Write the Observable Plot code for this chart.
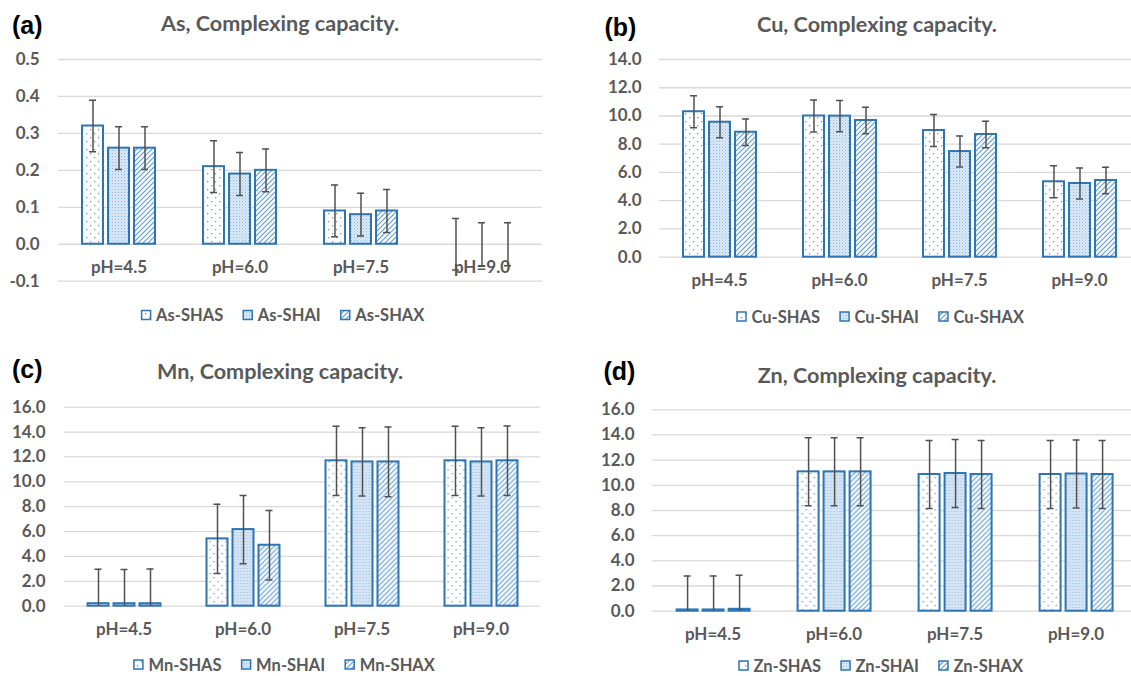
<!DOCTYPE html>
<html><head><meta charset="utf-8">
<script src="https://cdn.jsdelivr.net/npm/d3@7"></script>
<script src="https://cdn.jsdelivr.net/npm/@observablehq/plot@0.6"></script>
<style>
html,body{margin:0;padding:0;background:#fff;overflow:hidden;width:1131px;height:676px;}
.panel{position:absolute;}
#overlay{position:absolute;left:0;top:0;pointer-events:none;}
</style></head><body>
<svg width="0" height="0" style="position:absolute">
<defs>
<pattern id="pS" patternUnits="userSpaceOnUse" width="8" height="8">
  <rect width="8" height="8" fill="#fff"/>
  <rect x="1" y="1" width="1.3" height="1.3" fill="#5b9bd5"/>
  <rect x="5" y="5" width="1.3" height="1.3" fill="#5b9bd5"/>
</pattern>
<pattern id="pI" patternUnits="userSpaceOnUse" width="3" height="3">
  <rect width="3" height="3" fill="#dae8f6"/>
  <rect width="1" height="1" fill="#8dbae3"/>
  <rect x="1.5" y="1.5" width="1" height="1" fill="#b5d2ee"/>
</pattern>
<pattern id="pX" patternUnits="userSpaceOnUse" width="5" height="5">
  <rect width="5" height="5" fill="#fff"/>
  <path d="M0,5 L5,0 M-1,1 L1,-1 M4,6 L6,4" stroke="#5b9bd5" stroke-width="1.1"/>
</pattern>
</defs>
</svg>
<div id="pa" class="panel" style="left:0px;top:0px"></div>
<div id="pb" class="panel" style="left:570px;top:0px"></div>
<div id="pc" class="panel" style="left:0px;top:340px"></div>
<div id="pd" class="panel" style="left:570px;top:340px"></div>
<svg id="overlay" width="1131" height="676"></svg>
<script>
const categories = ["pH=4.5", "pH=6.0", "pH=7.5", "pH=9.0"];
const axisCross = 0;

// (a) As
const asSeries = ["As-SHAS", "As-SHAI", "As-SHAX"];
const asSHAS = [0.32, 0.21, 0.09, 0.00];
const asSHAI = [0.26, 0.19, 0.08, 0.00];
const asSHAX = [0.26, 0.20, 0.09, 0.00];
const asSHASErr = [0.07, 0.07, 0.07, 0.07];
const asSHAIErr = [0.058, 0.058, 0.058, 0.058];
const asSHAXErr = [0.058, 0.058, 0.058, 0.058];
const asTicks = [-0.1, 0, 0.1, 0.2, 0.3, 0.4, 0.5];

// (b) Cu
const cuSeries = ["Cu-SHAS", "Cu-SHAI", "Cu-SHAX"];
const cuSHAS = [10.3, 10.0, 8.97, 5.34];
const cuSHAI = [9.56, 9.99, 7.48, 5.22];
const cuSHAX = [8.85, 9.68, 8.69, 5.43];
const cuSHASErr = [1.13, 1.13, 1.13, 1.13];
const cuSHAIErr = [1.1, 1.1, 1.1, 1.1];
const cuSHAXErr = [0.94, 0.94, 0.94, 0.94];
const cuTicks = [0, 2, 4, 6, 8, 10, 12, 14];

// (c) Mn
const mnSeries = ["Mn-SHAS", "Mn-SHAI", "Mn-SHAX"];
const mnSHAS = [0.2, 5.41, 11.69, 11.69];
const mnSHAI = [0.2, 6.16, 11.6, 11.6];
const mnSHAX = [0.2, 4.9, 11.6, 11.69];
const mnSHASErr = [2.78, 2.78, 2.78, 2.78];
const mnSHAIErr = [2.75, 2.75, 2.75, 2.75];
const mnSHAXErr = [2.8, 2.8, 2.8, 2.8];
const mnTicks = [0, 2, 4, 6, 8, 10, 12, 14, 16];

// (d) Zn
const znSeries = ["Zn-SHAS", "Zn-SHAI", "Zn-SHAX"];
const znSHAS = [0.1, 11.07, 10.86, 10.86];
const znSHAI = [0.1, 11.07, 10.94, 10.9];
const znSHAX = [0.15, 11.07, 10.86, 10.86];
const znSHASErr = [2.7, 2.7, 2.7, 2.7];
const znSHAIErr = [2.7, 2.7, 2.7, 2.7];
const znSHAXErr = [2.7, 2.7, 2.7, 2.7];
const znTicks = [0, 2, 4, 6, 8, 10, 12, 14, 16];

const panelLabels = ["(a)", "(b)", "(c)", "(d)"];
const titles = ["As, Complexing capacity.", "Cu, Complexing capacity.", "Mn, Complexing capacity.", "Zn, Complexing capacity."];

const patterns = ["url(#pS)", "url(#pI)", "url(#pX)"];
const FONT = "Lato, 'Open Sans', sans-serif";
const GRAY = "#595959";
const BLUE = "#2e75b6";

function makePanel(el, cfg) {
  const rows = [];
  categories.forEach((c, i) => cfg.series.forEach((s, j) => {
    rows.push({cat: c, series: s, v: cfg.values[j][i], e: cfg.errors[j][i]});
  }));
  const t = cfg.ticks;
  const chart = Plot.plot({
    width: cfg.width, height: cfg.height,
    marginLeft: cfg.ml, marginRight: cfg.mr, marginTop: cfg.mt, marginBottom: cfg.mb,
    style: {background: "transparent", fontFamily: FONT, fontSize: "17px", fontWeight: "bold", color: GRAY, overflow: "visible", maxWidth: "none"},
    fx: {domain: categories, padding: 0, axis: null},
    x: {domain: cfg.series, paddingInner: 0.2, paddingOuter: 0.86, axis: null},
    y: {domain: [t[0], t[t.length - 1]], axis: null},
    color: {domain: cfg.series, range: patterns},
    marks: [
      Plot.gridY(t, {stroke: "#d9d9d9", strokeOpacity: 1, strokeWidth: 1.3}),
      Plot.axisY(t, {label: null, tickSize: 0, tickPadding: cfg.tp, tickFormat: d => d.toFixed(1), fontSize: 17, fontWeight: "bold", fill: GRAY}),
      Plot.text(categories, {fx: d => d, y: () => axisCross, dy: 23.5, text: d => d, fontSize: 17, fontWeight: "bold", fill: GRAY}),
      Plot.barY(rows, {filter: d => d.v !== 0, fx: "cat", x: "series", y: "v", fill: "series", stroke: BLUE, strokeWidth: 2}),
      Plot.ruleX(rows, {fx: "cat", x: "series", y1: d => d.v - d.e, y2: d => d.v + d.e, stroke: "#505050", strokeWidth: 1.5, clip: true}),
      Plot.tickY(rows, {fx: "cat", x: "series", y: d => d.v - d.e, stroke: "#505050", strokeWidth: 1.5, insetLeft: 7, insetRight: 7, clip: true}),
      Plot.tickY(rows, {fx: "cat", x: "series", y: d => d.v + d.e, stroke: "#505050", strokeWidth: 1.5, insetLeft: 7, insetRight: 7, clip: true})
    ]
  });
  document.getElementById(el).appendChild(chart);
}

makePanel("pa", {series: asSeries, values: [asSHAS, asSHAI, asSHAX], errors: [asSHASErr, asSHAIErr, asSHAXErr], ticks: asTicks,
  width: 560, height: 305.7, ml: 57, mr: 18, mt: 59, mb: 25, tp: 19});
makePanel("pb", {series: cuSeries, values: [cuSHAS, cuSHAI, cuSHAX], errors: [cuSHASErr, cuSHAIErr, cuSHAXErr], ticks: cuTicks,
  width: 580, height: 296.7, ml: 87, mr: 10, mt: 59, mb: 40, tp: 18});
makePanel("pc", {series: mnSeries, values: [mnSHAS, mnSHAI, mnSHAX], errors: [mnSHASErr, mnSHAIErr, mnSHAXErr], ticks: mnTicks,
  width: 560, height: 301.7, ml: 62.5, mr: 18, mt: 66.7, mb: 36, tp: 19});
makePanel("pd", {series: znSeries, values: [znSHAS, znSHAI, znSHAX], errors: [znSHASErr, znSHAIErr, znSHAXErr], ticks: znTicks,
  width: 577.2, height: 306.7, ml: 80.4, mr: 10, mt: 69.3, mb: 36, tp: 18});

// overlay: panel labels, titles, legends
const NS = "http://www.w3.org/2000/svg";
const ov = document.getElementById("overlay");
function txt(x, y, s, attrs) {
  const e = document.createElementNS(NS, "text");
  e.setAttribute("x", x); e.setAttribute("y", y);
  for (const k in attrs) e.setAttribute(k, attrs[k]);
  e.textContent = s; ov.appendChild(e); return e;
}
const labelPos = [[12, 34], [604.5, 36.4], [12, 378], [603.5, 379.7]];
const titlePos = [[280, 31], [877, 31.7], [280, 379.3], [877, 383.3]];
panelLabels.forEach((s, i) => txt(labelPos[i][0], labelPos[i][1], s, {"font-family": "'Liberation Sans', Arial, sans-serif", "font-weight": "bold", "font-size": 25, fill: "#000"}));
titles.forEach((s, i) => txt(titlePos[i][0], titlePos[i][1], s, {"font-family": FONT, "font-weight": "bold", "font-size": 21.6, fill: GRAY, "text-anchor": "middle"}));

const legendSeries = [asSeries, cuSeries, mnSeries, znSeries];
const legendPos = [[283, 321], [880.5, 322.5], [284.4, 670.5], [881, 671.5]];
legendSeries.forEach((ser, i) => {
  const [cx, base] = legendPos[i];
  const items = ser.map((s, j) => {
    const r = document.createElementNS(NS, "rect");
    r.setAttribute("width", 9); r.setAttribute("height", 9);
    r.setAttribute("fill", patterns[j]); r.setAttribute("stroke", BLUE); r.setAttribute("stroke-width", 1.5);
    ov.appendChild(r);
    const tx = txt(0, base, s, {"font-family": FONT, "font-weight": "bold", "font-size": 16.5, fill: GRAY});
    return {r, tx, w: tx.getComputedTextLength()};
  });
  const gap = 20, sw = 9, sp = 5.5;
  const total = items.reduce((a, it) => a + sw + sp + it.w, 0) + gap * (items.length - 1);
  let x = cx - total / 2;
  items.forEach(it => {
    it.r.setAttribute("x", x); it.r.setAttribute("y", base - 10.5);
    it.tx.setAttribute("x", x + sw + sp);
    x += sw + sp + it.w + gap;
  });
});
</script></body></html>
